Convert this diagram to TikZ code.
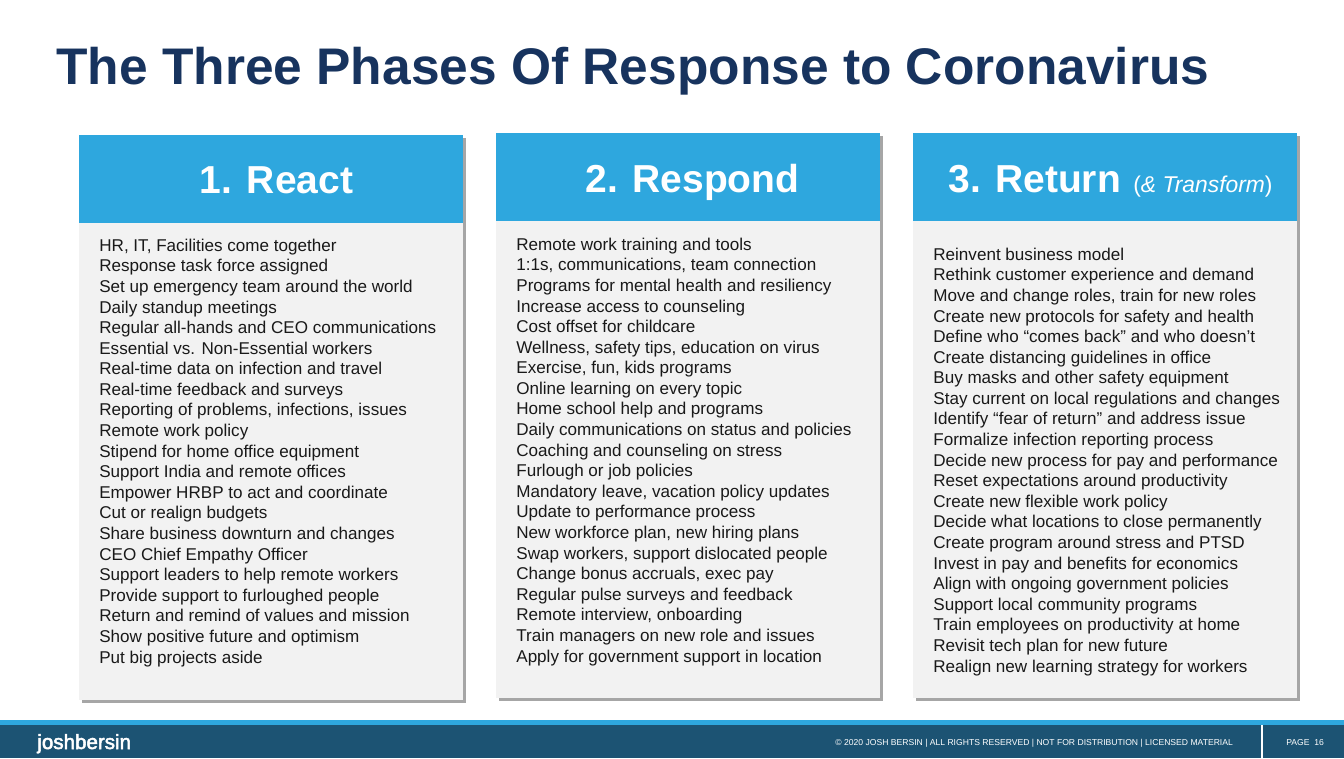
\documentclass[tikz,border=0pt]{standalone}
\usepackage{fontspec}
\setmainfont{Liberation Sans}
\newfontfamily\logofont[FakeBold=2.5]{Liberation Sans}
\usetikzlibrary{shadows}
\definecolor{titleblue}{HTML}{17335E}
\definecolor{headblue}{HTML}{2EA7DE}
\definecolor{cardgray}{HTML}{F2F2F2}
\definecolor{footblue}{HTML}{1C5373}
\begin{document}
\begin{tikzpicture}[x=0.02cm,y=-0.02cm,
    card/.style={anchor=north west,inner sep=0,minimum width=7.68cm,minimum height=11.3cm,fill=cardgray,
      drop shadow={shadow xshift=0.045cm,shadow yshift=-0.045cm,fill=black,opacity=0.35}},
    head/.style={anchor=north west,inner sep=0,minimum width=7.68cm,minimum height=1.75cm,fill=headblue},
    headtext/.style={anchor=base,inner sep=0,text=white,font=\fontsize{22.2}{27}\selectfont\bfseries},
    listtext/.style={anchor=north west,inner sep=0,align=left,text=black!90,font=\fontsize{9.72}{11.72}\selectfont},
    foottext/.style={anchor=base west,inner sep=0,text=white,font=\fontsize{4.89}{6}\selectfont}]
  \useasboundingbox (0,0) rectangle (1344,758);
  \fill[white] (0,0) rectangle (1344,758);

  \node[anchor=base west,inner sep=0,text=titleblue,font=\fontsize{29.3}{36}\selectfont\bfseries] (title) at (56,84.3)
    {The Three Phases Of Response to Coronavirus};

  % columns
  \node[card] (reactcard) at (79,135) {};
  \node[card] (respondcard) at (496,133) {};
  \node[card] (returncard) at (913,133) {};
  \node[head] (reacthead) at (79,135) {};
  \node[head] (respondhead) at (496,133) {};
  \node[head] (returnhead) at (913,133) {};

  \node[headtext] (reactname) at (276.5,193) {1. React};
  \node[headtext] (respondname) at (692.5,192) {2. Respond};
  \node[headtext,anchor=base west] (returnname) at (948,192) {3. Return};
  \node[anchor=base west,inner sep=0,text=white,font=\fontsize{13}{15}\selectfont] (returnextra) at (1133,192)
    {(\textit{\& Transform})};

  \node[listtext] (reactlist) at (99,238.5) {HR, IT, Facilities come together\\
    Response task force assigned\\
    Set up emergency team around the world\\
    Daily standup meetings\\
    Regular all-hands and CEO communications\\
    Essential vs. Non-Essential workers\\
    Real-time data on infection and travel\\
    Real-time feedback and surveys\\
    Reporting of problems, infections, issues\\
    Remote work policy\\
    Stipend for home office equipment\\
    Support India and remote offices\\
    Empower HRBP to act and coordinate\\
    Cut or realign budgets\\
    Share business downturn and changes\\
    CEO Chief Empathy Officer\\
    Support leaders to help remote workers\\
    Provide support to furloughed people\\
    Return and remind of values and mission\\
    Show positive future and optimism\\
    Put big projects aside};

  \node[listtext] (respondlist) at (516,237.5) {Remote work training and tools\\
    1:1s, communications, team connection\\
    Programs for mental health and resiliency\\
    Increase access to counseling\\
    Cost offset for childcare\\
    Wellness, safety tips, education on virus\\
    Exercise, fun, kids programs\\
    Online learning on every topic\\
    Home school help and programs\\
    Daily communications on status and policies\\
    Coaching and counseling on stress\\
    Furlough or job policies\\
    Mandatory leave, vacation policy updates\\
    Update to performance process\\
    New workforce plan, new hiring plans\\
    Swap workers, support dislocated people\\
    Change bonus accruals, exec pay\\
    Regular pulse surveys and feedback\\
    Remote interview, onboarding\\
    Train managers on new role and issues\\
    Apply for government support in location};

  \node[listtext] (returnlist) at (933,247.5) {Reinvent business model\\
    Rethink customer experience and demand\\
    Move and change roles, train for new roles\\
    Create new protocols for safety and health\\
    Define who “comes back” and who doesn’t\\
    Create distancing guidelines in office\\
    Buy masks and other safety equipment\\
    Stay current on local regulations and changes\\
    Identify “fear of return” and address issue\\
    Formalize infection reporting process\\
    Decide new process for pay and performance\\
    Reset expectations around productivity\\
    Create new flexible work policy\\
    Decide what locations to close permanently\\
    Create program around stress and PTSD\\
    Invest in pay and benefits for economics\\
    Align with ongoing government policies\\
    Support local community programs\\
    Train employees on productivity at home\\
    Revisit tech plan for new future\\
    Realign new learning strategy for workers};

  % footer
  \fill[headblue] (0,720) rectangle (1344,725);
  \fill[footblue] (0,725) rectangle (1344,758);
  \draw[white,line width=0.6pt] (1262,725)--(1262,758);
  \node[anchor=base west,inner sep=0,text=white,font=\fontsize{11.7}{13}\logofont] (logo) at (37,749) {joshbersin};
  \node[foottext] (rights) at (835,745) {© 2020 JOSH BERSIN | ALL RIGHTS RESERVED | NOT FOR DISTRIBUTION | LICENSED MATERIAL};
  \node[foottext] (pagenum) at (1286,745) {PAGE\ \ 16};
\end{tikzpicture}
\end{document}
